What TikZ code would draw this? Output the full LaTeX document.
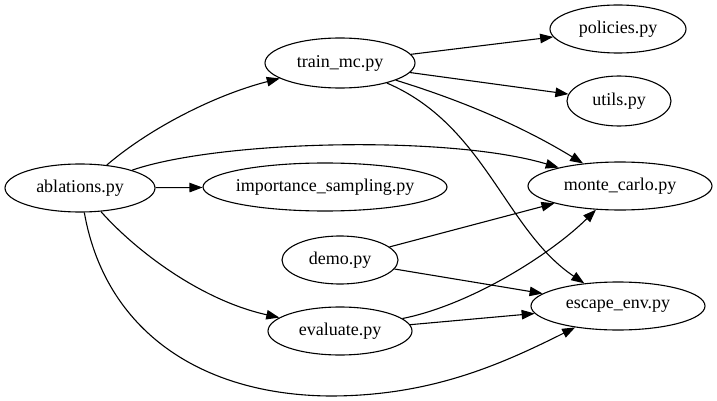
\documentclass[tikz,border=0pt]{standalone}
\usepackage{fontspec}
\setmainfont{Liberation Serif}
\newfontfamily\gvfont{Liberation Serif}
\usetikzlibrary{shapes.geometric,arrows.meta}
\begin{document}
\begin{tikzpicture}[x=1pt,y=-1pt,
  file/.style={draw,ellipse,inner sep=0pt,line width=1.1pt,font=\gvfont\fontsize{18}{20}\selectfont},
  dep/.style={draw,line width=1.1pt,-{Triangle[length=13pt,width=9.5pt]}}]
\useasboundingbox (0,0) rectangle (717,401);
\node[file,minimum width=150pt,minimum height=48pt] (abl) at (80,188) {\makebox[0pt]{ablations.py}};
\node[file,minimum width=150pt,minimum height=50pt] (train) at (340,63) {\makebox[0pt]{train\_mc.py}};
\node[file,minimum width=136pt,minimum height=48pt] (pol) at (618,29) {\makebox[0pt]{policies.py}};
\node[file,minimum width=104pt,minimum height=50pt] (utl) at (619,101) {\makebox[0pt]{utils.py}};
\node[file,minimum width=184pt,minimum height=48pt] (mc) at (620,186) {\makebox[0pt]{monte\_carlo.py}};
\node[file,minimum width=244pt,minimum height=48pt] (imp) at (325,187) {\makebox[0pt]{importance\_sampling.py}};
\node[file,minimum width=116pt,minimum height=48pt] (demo) at (340,260) {\makebox[0pt]{demo.py}};
\node[file,minimum width=144pt,minimum height=48pt] (eval) at (340,331) {\makebox[0pt]{evaluate.py}};
\node[file,minimum width=174pt,minimum height=48pt] (esc) at (618,306) {\makebox[0pt]{escape\_env.py}};

\draw[dep] (abl) .. controls (150,128) and (215,95) .. (train);
\draw[dep] (abl) .. controls (220,140) and (450,135) .. (mc);
\draw[dep] (abl) -- (imp);
\draw[dep] (abl) .. controls (135,250) and (200,300) .. (eval);
\draw[dep] (abl) .. controls (105,330) and (200,395) .. (330,396) .. controls (430,396) and (500,365) .. (esc);
\draw[dep] (train) -- (pol);
\draw[dep] (train) -- (utl);
\draw[dep] (train) .. controls (460,100) and (520,125) .. (mc);
\draw[dep] (train) .. controls (485,125) and (505,230) .. (esc);
\draw[dep] (demo) -- (mc);
\draw[dep] (demo) -- (esc);
\draw[dep] (eval) .. controls (470,305) and (550,255) .. (mc);
\draw[dep] (eval) -- (esc);
\end{tikzpicture}
\end{document}
